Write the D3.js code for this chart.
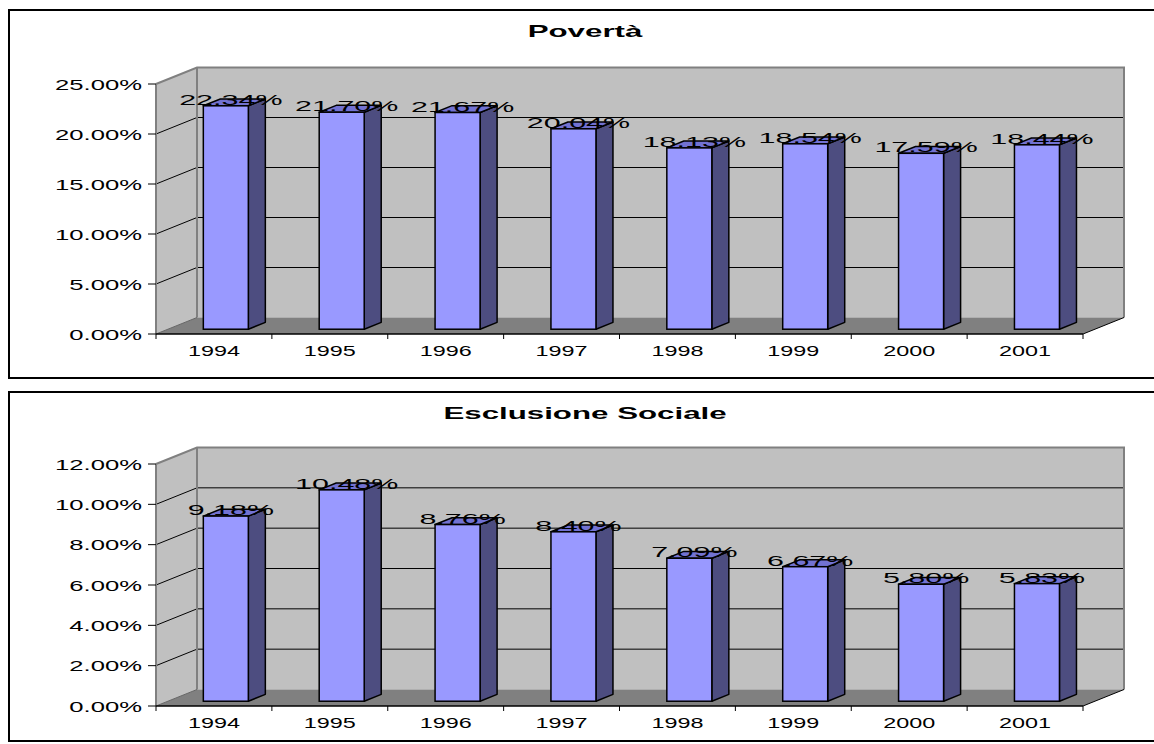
<!DOCTYPE html>
<html>
<head>
<meta charset="utf-8">
<script src="https://cdn.jsdelivr.net/npm/d3@7/dist/d3.min.js"></script>
<style>
  html, body { margin: 0; padding: 0; background: #fff; }
  svg { display: block; font-family: Arial, "Liberation Sans", sans-serif; }
</style>
</head>
<body>
<svg id="chart" width="1154" height="744"></svg>
<script>
// Years on the category axis
const years = ["1994", "1995", "1996", "1997", "1998", "1999", "2000", "2001"];

// Poverty rate (%)
const povertaValues = [22.34, 21.70, 21.67, 20.04, 18.13, 18.54, 17.59, 18.44];
const povertaTicks = [0, 5, 10, 15, 20, 25];

// Social exclusion rate (%)
const esclusioneValues = [9.18, 10.48, 8.76, 8.40, 7.09, 6.67, 5.80, 5.83];
const esclusioneTicks = [0, 2, 4, 6, 8, 10, 12];

const titles = ["Povertà", "Esclusione Sociale"];

const svg = d3.select("#chart");
const pct = v => d3.format(".2f")(v) + "%";

// 3D depth of the plot box (offset from front plane to back wall)
const DX = 41, DY = -16.5;
// bar occupies this slice of the depth
const T0 = 0.29, T1 = 0.705;
const BAR_W = 45;

const COL = {
  wall: "#c0c0c0", floor: "#808080", edge: "#808080",
  front: "#9999ff", side: "#4d4d80", top: "#7272d2"
};

function drawChart(cfg) {
  const g = svg.append("g");

  // outer frame
  g.append("rect")
    .attr("x", 9).attr("y", cfg.frameTop)
    .attr("width", 1160).attr("height", cfg.frameBottom - cfg.frameTop)
    .attr("fill", "#fff").attr("stroke", "#000").attr("stroke-width", 2);

  const x = d3.scaleBand().domain(years).range([156, 1083]);
  const y = d3.scaleLinear().domain([0, cfg.max]).range([cfg.y0, cfg.yTop]);
  const x0 = x.range()[0], x1 = x.range()[1];
  const yb = y(0), yt = y(cfg.max);

  // side wall
  g.append("polygon")
    .attr("points", [[x0, yt], [x0 + DX, yt + DY], [x0 + DX, yb + DY], [x0, yb]].join(" "))
    .attr("fill", COL.wall);
  // back wall
  g.append("rect")
    .attr("x", x0 + DX).attr("y", yt + DY)
    .attr("width", x1 - x0).attr("height", yb - yt)
    .attr("fill", COL.wall);
  // floor
  g.append("polygon")
    .attr("points", [[x0, yb], [x0 + DX, yb + DY], [x1 + DX, yb + DY], [x1, yb]].join(" "))
    .attr("fill", COL.floor);

  // gridlines on side and back walls
  const grid = cfg.ticks.filter(t => t > 0 && t < cfg.max);
  g.selectAll(".grid").data(grid).enter().append("polyline")
    .attr("points", t => [[x0, y(t)], [x0 + DX, y(t) + DY], [x1 + DX, y(t) + DY]].join(" "))
    .attr("fill", "none").attr("stroke", "#000").attr("stroke-width", 1);

  // wall edges
  g.append("polyline")
    .attr("points", [[x0, yt], [x0 + DX, yt + DY], [x1 + DX, yt + DY], [x1 + DX, yb + DY]].join(" "))
    .attr("fill", "none").attr("stroke", COL.edge).attr("stroke-width", 2);
  g.append("line")
    .attr("x1", x0 + DX).attr("y1", yt + DY).attr("x2", x0 + DX).attr("y2", yb + DY)
    .attr("stroke", COL.edge).attr("stroke-width", 2);
  g.append("line")
    .attr("x1", x0).attr("y1", yb).attr("x2", x0 + DX).attr("y2", yb + DY)
    .attr("stroke", "#666").attr("stroke-width", 1);
  // floor right edge
  g.append("line")
    .attr("x1", x1).attr("y1", yb).attr("x2", x1 + DX).attr("y2", yb + DY)
    .attr("stroke", "#000").attr("stroke-width", 1);

  // value axis
  g.append("line")
    .attr("x1", x0).attr("y1", yt).attr("x2", x0).attr("y2", yb)
    .attr("stroke", COL.edge).attr("stroke-width", 2);
  g.selectAll(".ytick").data(cfg.ticks).enter().append("line")
    .attr("x1", x0 - 8).attr("x2", x0).attr("y1", d => y(d)).attr("y2", d => y(d))
    .attr("stroke", "#000").attr("stroke-width", 1);
  g.selectAll(".ylab").data(cfg.ticks).enter().append("text")
    .attr("transform", d => `translate(142,${y(d) + 5.5}) scale(1.71,1)`)
    .attr("text-anchor", "end").attr("font-size", 15).attr("fill", "#000")
    .text(pct);

  // category axis
  g.append("line")
    .attr("x1", x0).attr("y1", yb).attr("x2", x1).attr("y2", yb)
    .attr("stroke", "#000").attr("stroke-width", 1.5);
  const bounds = years.map(d => x(d)).concat([x1]);
  g.selectAll(".xtick").data(bounds).enter().append("line")
    .attr("x1", d => d).attr("x2", d => d).attr("y1", yb).attr("y2", yb + 5)
    .attr("stroke", "#000").attr("stroke-width", 1);
  g.selectAll(".xlab").data(years).enter().append("text")
    .attr("transform", d => `translate(${x(d) + x.bandwidth() / 2},${yb + 22}) scale(1.56,1)`)
    .attr("text-anchor", "middle").attr("font-size", 15).attr("fill", "#000")
    .text(d => d);

  // 3D bars
  const data = years.map((yr, i) => ({ yr, v: cfg.values[i] }));
  const ddx = (T1 - T0) * DX, ddy = (T1 - T0) * DY;
  const bars = g.selectAll(".bar").data(data).enter().append("g");
  const geom = d => {
    const c = x(d.yr) + x.bandwidth() / 2;
    const l = c - BAR_W / 2 + T0 * DX, r = l + BAR_W;
    const top = y(d.v) + T0 * DY, bot = y(0) + T0 * DY;
    return { l, r, top, bot };
  };
  bars.append("polygon")
    .attr("points", d => { const q = geom(d); return [[q.r, q.top], [q.r + ddx, q.top + ddy], [q.r + ddx, q.bot + ddy], [q.r, q.bot]].join(" "); })
    .attr("fill", COL.side).attr("stroke", "#000").attr("stroke-width", 1.5).attr("stroke-linejoin", "round");
  bars.append("polygon")
    .attr("points", d => { const q = geom(d); return [[q.l, q.top], [q.r, q.top], [q.r + ddx, q.top + ddy], [q.l + ddx, q.top + ddy]].join(" "); })
    .attr("fill", COL.top).attr("stroke", "#000").attr("stroke-width", 1.5).attr("stroke-linejoin", "round");
  bars.append("rect")
    .attr("x", d => geom(d).l).attr("y", d => geom(d).top)
    .attr("width", BAR_W).attr("height", d => geom(d).bot - geom(d).top)
    .attr("fill", COL.front).attr("stroke", "#000").attr("stroke-width", 1.5);

  // value labels
  g.selectAll(".vlab").data(data).enter().append("text")
    .attr("transform", d => { const q = geom(d); return `translate(${(q.l + q.r) / 2 + 5},${q.top - 1}) scale(2.03,1)`; })
    .attr("text-anchor", "middle").attr("font-size", 15).attr("fill", "#000")
    .text(d => pct(d.v));

  // title
  g.append("text")
    .attr("transform", `translate(585,${cfg.titleY}) scale(1.84,1)`)
    .attr("text-anchor", "middle").attr("font-size", 17).attr("font-weight", "bold")
    .attr("fill", "#000")
    .text(cfg.title);
}

drawChart({
  title: titles[0], values: povertaValues, ticks: povertaTicks, max: 25,
  y0: 334, yTop: 84, frameTop: 10, frameBottom: 378, titleY: 37
});
drawChart({
  title: titles[1], values: esclusioneValues, ticks: esclusioneTicks, max: 12,
  y0: 706, yTop: 464, frameTop: 392, frameBottom: 741, titleY: 419
});
</script>
</body>
</html>
